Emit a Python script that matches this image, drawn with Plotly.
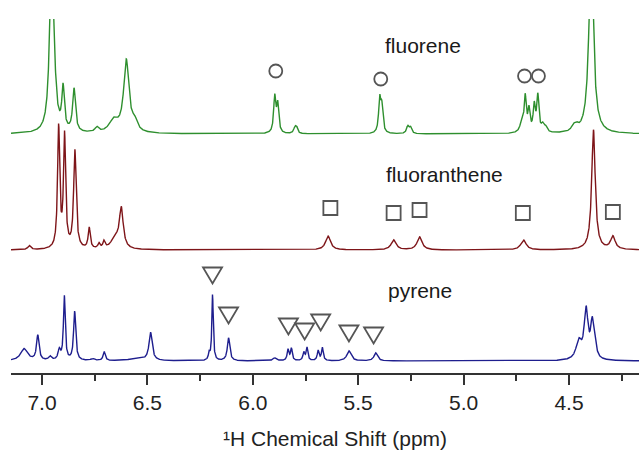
import numpy as np
import plotly.graph_objects as go

# ---------------- data ----------------
# chemical-shift axis (ppm)
X_RANGE = [7.147, 4.168]
TICK_VALUES = [7.0, 6.5, 6.0, 5.5, 5.0, 4.5]
TICK_LABELS = ["7.0", "6.5", "6.0", "5.5", "5.0", "4.5"]
X_TITLE = "\u00b9H Chemical Shift (ppm)"

# fluorene spectrum: peak positions (ppm), heights, half-widths (ppm)
fluorene_pos = [6.955, 6.940, 6.900, 6.848, 6.74, 6.66, 6.600, 6.56,
                5.896, 5.882, 5.800, 5.792, 5.398, 5.388, 5.265, 5.252,
                4.725, 4.708, 4.690, 4.665, 4.648, 4.625, 4.610,
                4.480, 4.465, 4.395]
fluorene_h = [170, 22, 42, 43, 5, 12, 72, 9,
              36, 28, 6, 5, 33, 25, 7, 6,
              9, 35, 22, 26, 36, 7, 5,
              5, 5, 180]
fluorene_w = [0.011, 0.010, 0.007, 0.008, 0.010, 0.025, 0.015, 0.015,
              0.006, 0.006, 0.007, 0.006, 0.006, 0.006, 0.007, 0.007,
              0.010, 0.006, 0.006, 0.006, 0.006, 0.008, 0.008,
              0.010, 0.010, 0.013]
fluorene_base = 239

# fluoranthene spectrum
fluoranthene_pos = [7.060, 6.921, 6.893, 6.844, 6.776, 6.730, 6.706, 6.654,
                    6.624, 5.643, 5.332, 5.209, 4.716, 4.384, 4.292]
fluoranthene_h = [4, 121, 112, 98, 21, 5, 7, 11,
                  40, 14, 10, 13, 10, 120, 13]
fluoranthene_w = [0.008, 0.006, 0.006, 0.007, 0.006, 0.006, 0.006, 0.020,
                  0.011, 0.014, 0.014, 0.014, 0.015, 0.010, 0.013]
fluoranthene_base = 123

# pyrene spectrum
pyrene_pos = [7.085, 7.020, 6.962, 6.918, 6.894, 6.845, 6.760, 6.705,
              6.550, 6.485, 6.207, 6.191, 6.115, 5.896, 5.833, 5.817,
              5.758, 5.743, 5.690, 5.670, 5.544, 5.417,
              4.454, 4.419, 4.390, 4.376]
pyrene_h = [12, 25, 4, 10, 64, 49, 2, 9,
            2, 28, 7, 66, 23, 3, 11, 12,
            8, 13, 10, 13, 10, 8,
            18, 49, 35, 9]
pyrene_w = [0.020, 0.007, 0.008, 0.007, 0.005, 0.006, 0.010, 0.006,
            0.050, 0.009, 0.004, 0.004, 0.007, 0.010, 0.005, 0.005,
            0.005, 0.005, 0.005, 0.005, 0.012, 0.010,
            0.015, 0.011, 0.009, 0.009]
pyrene_base = 12

# peak-assignment symbols (ppm, vertical position)
circle_x = [5.891, 5.393, 4.711, 4.645]
circle_y = [302, 294, 297, 297]
square_x = [5.632, 5.332, 5.209, 4.719, 4.292]
square_y = [165, 160, 163, 160, 161]
triangle_x = [6.191, 6.115, 5.831, 5.754, 5.678, 5.544, 5.427]
triangle_y = [98, 58, 47, 42, 51, 40, 38]

labels = ["fluorene", "fluoranthene", "pyrene"]
label_x = [5.381, 5.377, 5.367]
label_y = [328, 199, 83]

# ---------------- styles ----------------
GREEN = "#2e8f2e"
RED = "#7e1519"
BLUE = "#1e1e8e"
MARK = "#555555"
FONT = "Liberation Sans, Arial, sans-serif"

ppm = np.linspace(X_RANGE[0], X_RANGE[1], 4000)


def spectrum(pos, h, w, base):
    y = np.full_like(ppm, float(base))
    for p, a, g in zip(pos, h, w):
        y += a / (1.0 + ((ppm - p) / g) ** 2)
    return y


fig = go.Figure()
for pos, h, w, base, col, name in [
    (fluorene_pos, fluorene_h, fluorene_w, fluorene_base, GREEN, "fluorene"),
    (fluoranthene_pos, fluoranthene_h, fluoranthene_w, fluoranthene_base, RED, "fluoranthene"),
    (pyrene_pos, pyrene_h, pyrene_w, pyrene_base, BLUE, "pyrene"),
]:
    fig.add_trace(go.Scatter(x=ppm, y=spectrum(pos, h, w, base), mode="lines",
                             line=dict(color=col, width=1.4), name=name,
                             hoverinfo="skip"))

fig.add_trace(go.Scatter(x=circle_x, y=circle_y, mode="markers",
                         marker=dict(symbol="circle-open", size=13,
                                     line=dict(color=MARK, width=1.8), color=MARK),
                         hoverinfo="skip"))
fig.add_trace(go.Scatter(x=square_x, y=square_y, mode="markers",
                         marker=dict(symbol="square-open", size=14,
                                     line=dict(color=MARK, width=1.8), color=MARK),
                         hoverinfo="skip"))

shapes = []
for tx, ty in zip(triangle_x, triangle_y):
    shapes.append(dict(type="path", xref="x", yref="y",
                       xsizemode="pixel", ysizemode="pixel",
                       xanchor=tx, yanchor=ty,
                       path="M -9.5 7.5 L 9.5 7.5 L 0 -8.5 Z",
                       line=dict(color=MARK, width=1.8),
                       fillcolor="rgba(0,0,0,0)"))

annotations = []
for t, lx, ly in zip(labels, label_x, label_y):
    annotations.append(dict(text=t, x=lx, y=ly, xref="x", yref="y",
                            xanchor="left", yanchor="middle", showarrow=False,
                            font=dict(family=FONT, size=21, color="#1a1a1a")))
annotations.append(dict(text=X_TITLE, x=(335 - 11) / 628, y=-0.185,
                        xref="paper", yref="paper", xanchor="center",
                        yanchor="middle", showarrow=False,
                        font=dict(family=FONT, size=21, color="#222222")))

fig.update_layout(
    width=639, height=450,
    margin=dict(l=11, r=0, t=19, b=77),
    paper_bgcolor="white", plot_bgcolor="white",
    showlegend=False,
    shapes=shapes,
    annotations=annotations,
    xaxis=dict(range=X_RANGE, showgrid=False, zeroline=False,
               showline=True, linecolor="#333333", linewidth=2,
               ticks="outside", ticklen=10, tickwidth=1.5, tickcolor="#333333",
               tickvals=TICK_VALUES, ticktext=TICK_LABELS,
               minor=dict(dtick=0.25, ticks="outside", ticklen=6,
                          tickwidth=1.5, tickcolor="#333333"),
               tickfont=dict(family=FONT, size=21, color="#222222")),
    yaxis=dict(range=[0, 354], visible=False, showgrid=False, zeroline=False),
)

fig.write_html("out.html",
               config={"displayModeBar": False},
               post_script="document.body.style.margin='0';"
                           "document.body.style.overflow='hidden';")
